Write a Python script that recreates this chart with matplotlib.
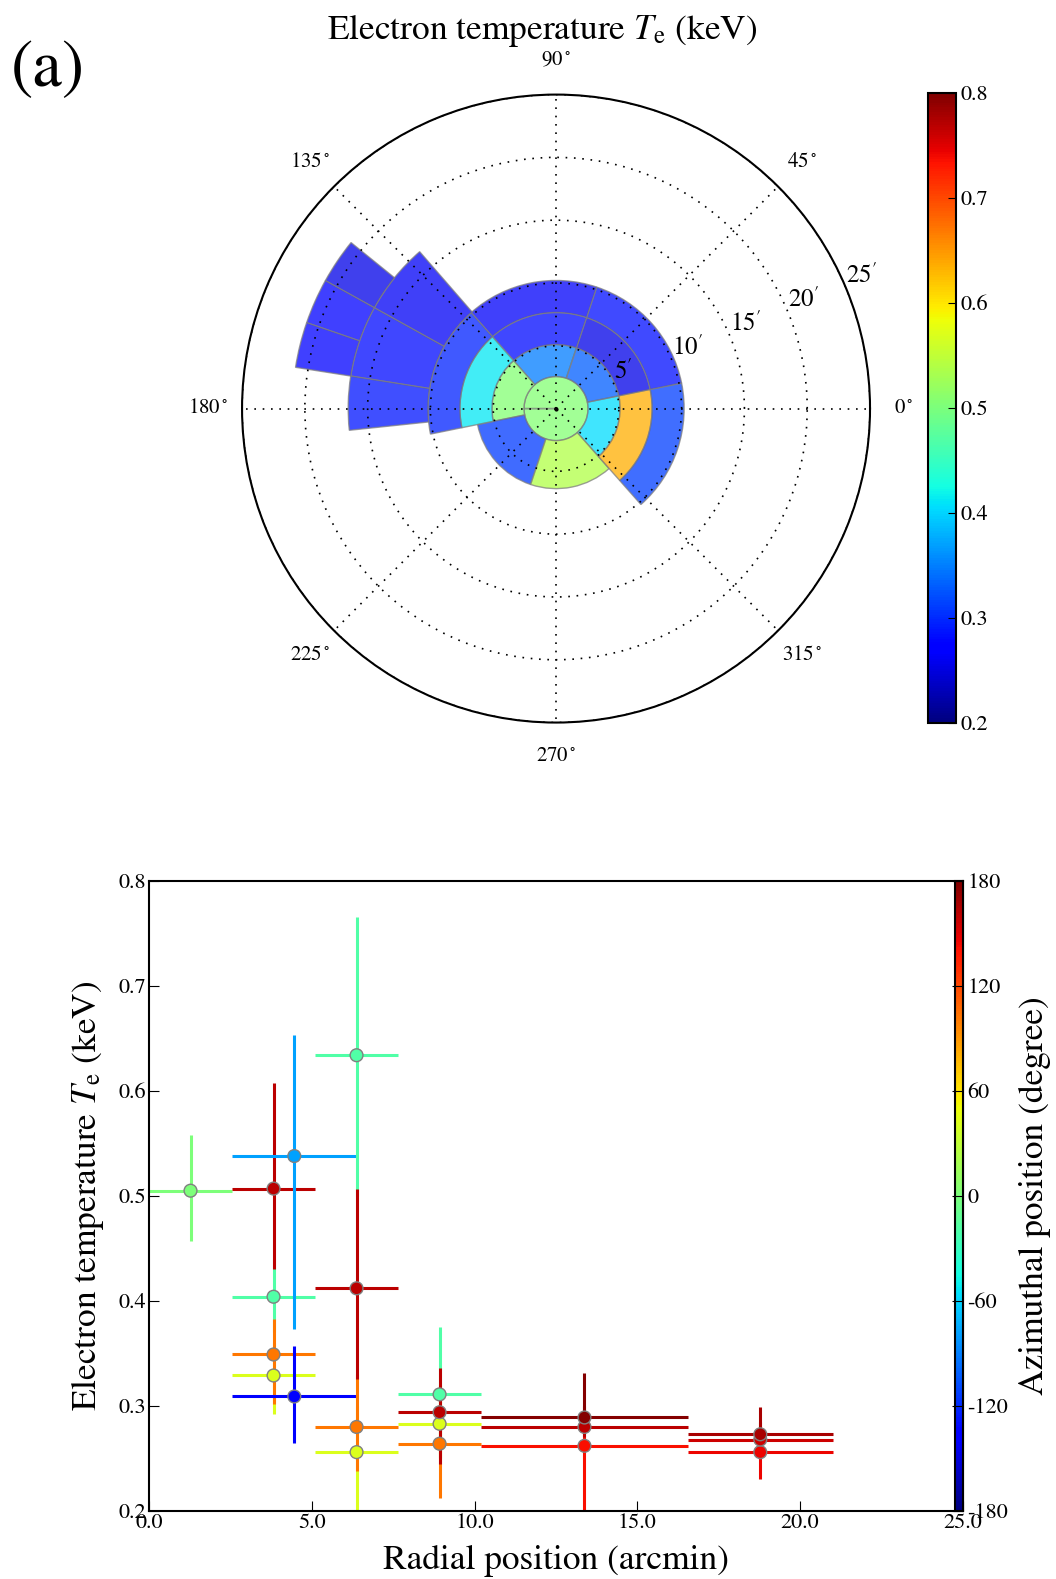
import matplotlib
matplotlib.use("Agg")
import matplotlib.pyplot as plt
import numpy as np
from matplotlib import cm
from matplotlib.colors import Normalize

plt.rcParams["font.family"] = ["STIXGeneral", "DejaVu Serif"]
plt.rcParams["mathtext.fontset"] = "stix"

# sectors: radial range (arcmin), azimuth range (deg), Te and its error range (keV)
r_lo = [0.0, 2.55, 2.55, 2.55, 2.55, 2.55, 2.55,
        5.1, 5.1, 5.1, 5.1, 7.65, 7.65, 7.65, 7.65,
        10.2, 10.2, 10.2, 16.55, 16.55, 16.55]
r_hi = [2.55, 5.1, 5.1, 5.1, 5.1, 6.375, 6.375,
        7.65, 7.65, 7.65, 7.65, 10.2, 10.2, 10.2, 10.2,
        16.55, 16.55, 16.55, 21.0, 21.0, 21.0]
th_lo = [-180, -48.5, 11.5, 71.5, 131.5, 191.5, 251.5,
         -48.5, 11.5, 71.5, 131.5, -48.5, 11.5, 71.5, 131.5,
         131.0, 151.0, 171.0, 141.0, 151.0, 161.0]
th_hi = [180, 11.5, 71.5, 131.5, 191.5, 251.5, 311.5,
         11.5, 71.5, 131.5, 191.5, 11.5, 71.5, 131.5, 191.5,
         151.0, 171.0, 186.0, 151.0, 161.0, 171.0]
te = [0.505, 0.404, 0.329, 0.349, 0.507, 0.309, 0.538,
      0.634, 0.256, 0.280, 0.412, 0.311, 0.283, 0.264, 0.294,
      0.262, 0.280, 0.289, 0.256, 0.268, 0.273]
te_lo = [0.457, 0.370, 0.292, 0.302, 0.430, 0.265, 0.373,
         0.500, 0.190, 0.238, 0.326, 0.250, 0.250, 0.212, 0.245,
         0.190, 0.270, 0.280, 0.230, 0.250, 0.260]
te_hi = [0.558, 0.440, 0.360, 0.383, 0.608, 0.357, 0.653,
         0.766, 0.300, 0.330, 0.507, 0.375, 0.320, 0.320, 0.336,
         0.285, 0.300, 0.331, 0.280, 0.285, 0.299]

r_ticks = [5, 10, 15, 20, 25]
theta_ticks = [0, 45, 90, 135, 180, 225, 270, 315]
te_ticks = [0.2, 0.3, 0.4, 0.5, 0.6, 0.7, 0.8]
az_ticks = [-180, -120, -60, 0, 60, 120, 180]
x_ticks = [0, 5, 10, 15, 20, 25]

r_lo, r_hi = np.array(r_lo), np.array(r_hi)
th_lo, th_hi = np.array(th_lo), np.array(th_hi)
te, te_lo, te_hi = np.array(te), np.array(te_lo), np.array(te_hi)

az = (th_lo + th_hi) / 2.0
az = (az + 180.0) % 360.0 - 180.0
az[0] = 0.0
r_mid = (r_lo + r_hi) / 2.0

cmap = cm.jet
norm_te = Normalize(0.2, 0.8)
norm_az = Normalize(-180, 180)

fig = plt.figure(figsize=(10.56, 15.79), dpi=100)

# ---- polar map ----
ax = fig.add_axes([0.2292, 0.5424, 0.5947, 0.3977], projection="polar")
ax.bar(np.deg2rad((th_lo + th_hi) / 2.0), r_hi - r_lo,
       width=np.deg2rad(th_hi - th_lo), bottom=r_lo,
       color=cmap(norm_te(te)), alpha=0.75,
       edgecolor="gray", linewidth=1.0, align="center")
ax.plot([0], [0], "k.", ms=4)
ax.set_rlim(0, 25)
ax.set_rgrids(r_ticks, labels=[r"$%d^\prime$" % v for v in r_ticks],
              angle=22.5, fontsize=18)
ax.set_thetagrids(theta_ticks, labels=[r"%d$^\circ$" % v for v in theta_ticks],
                  fontsize=15)
ax.tick_params(axis="x", pad=14)
ax.grid(True, color="k", linestyle=(0, (1, 4)), linewidth=1.2)
ax.spines["polar"].set_linewidth(1.5)

cax1 = fig.add_axes([0.8788, 0.5422, 0.0265, 0.3991])
cb1 = fig.colorbar(cm.ScalarMappable(norm=norm_te, cmap=cmap), cax=cax1)
cb1.set_ticks(te_ticks)
cb1.ax.set_yticklabels(["%.1f" % v for v in te_ticks])
cb1.ax.tick_params(direction="in", length=6, labelsize=16, pad=3)
cb1.outline.set_linewidth(1.5)

fig.text(0.513, 0.981, r"Electron temperature $T_{\rm e}$ (keV)",
         ha="center", va="center", fontsize=25.5)
fig.text(0.010, 0.955, "(a)", ha="left", va="center", fontsize=48)

# ---- Te vs radius ----
ax2 = fig.add_axes([0.1411, 0.0431, 0.7708, 0.3990])
colors = cmap(norm_az(az))
for i in range(len(te)):
    ax2.errorbar(r_mid[i], te[i],
                 xerr=[[r_mid[i] - r_lo[i]], [r_hi[i] - r_mid[i]]],
                 yerr=[[te[i] - te_lo[i]], [te_hi[i] - te[i]]],
                 fmt="none", ecolor=colors[i], elinewidth=2.2, capsize=0)
ax2.scatter(r_mid, te, c=colors, s=85, edgecolors="gray", linewidths=1.0, zorder=5)
ax2.set_xlim(0, 25)
ax2.set_ylim(0.2, 0.8)
ax2.set_xticks(x_ticks)
ax2.set_xticklabels(["%.1f" % v for v in x_ticks])
ax2.set_yticks(te_ticks)
ax2.set_yticklabels(["%.1f" % v for v in te_ticks])
ax2.tick_params(direction="in", length=7, labelsize=16, pad=2)
for s in ax2.spines.values():
    s.set_linewidth(1.5)
ax2.set_xlabel("Radial position (arcmin)", fontsize=25.5, labelpad=8)
ax2.set_ylabel(r"Electron temperature $T_{\rm e}$ (keV)", fontsize=25.5, labelpad=9)

cax2 = fig.add_axes([0.9044, 0.0431, 0.0076, 0.3990])
cb2 = fig.colorbar(cm.ScalarMappable(norm=norm_az, cmap=cmap), cax=cax2)
cb2.set_ticks(az_ticks)
cb2.ax.set_yticklabels(["%d" % v for v in az_ticks])
cb2.ax.tick_params(direction="in", length=8, labelsize=16, pad=3)
cb2.outline.set_linewidth(1.5)
cb2.set_label("Azimuthal position (degree)", fontsize=25.5, labelpad=8)

fig.savefig("out.png", dpi=100)
